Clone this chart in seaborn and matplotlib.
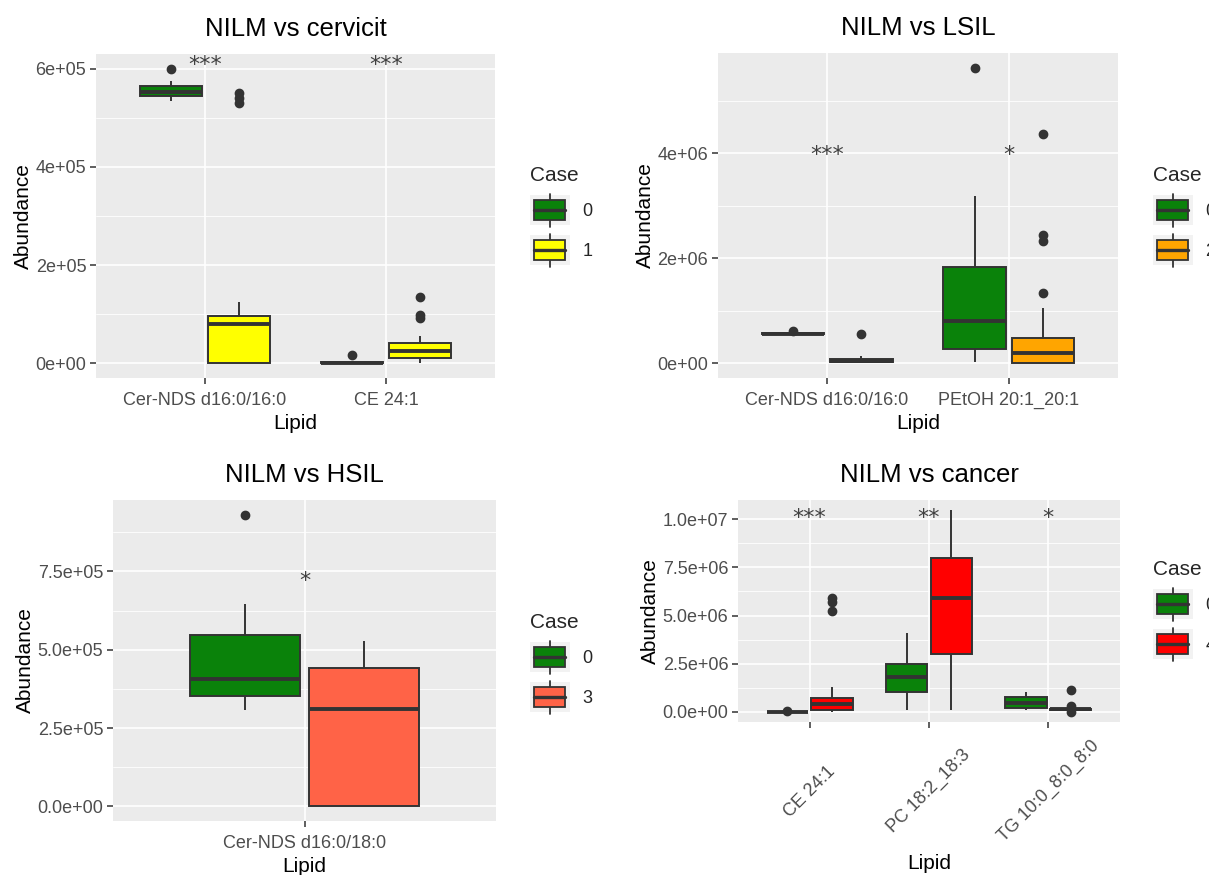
import numpy as np
import pandas as pd
import matplotlib
matplotlib.use("Agg")
import matplotlib.pyplot as plt
import seaborn as sns
from matplotlib.patches import Patch, Rectangle
from matplotlib.lines import Line2D
from matplotlib.legend_handler import HandlerBase

# ---------------- NILM vs cervicit ----------------
cerv_title = "NILM vs cervicit"
cerv_lipids = ["Cer-NDS d16:0/16:0", "CE 24:1"]
cerv_cases = ["0", "1"]
cerv_colors = ["#0A820A", "#FFFF00"]
cerv_cer_0 = [5.35e5, 5.40e5, 5.44e5, 5.48e5, 5.52e5, 5.58e5, 5.65e5, 5.76e5, 6.00e5]
cerv_cer_1 = [0, 0, 0, 0, 0, 2.0e4, 4.5e4, 6.5e4, 8.0e4, 8.5e4, 9.0e4, 9.3e4, 9.65e4,
              1.24e5, 5.31e5, 5.41e5, 5.51e5]
cerv_ce_0 = [0, 200, 500, 1000, 1500, 2000, 2500, 3500, 16000]
cerv_ce_1 = [0, 3e3, 6e3, 8e3, 1.0e4, 1.5e4, 2.0e4, 2.3e4, 2.6e4, 3.0e4, 3.5e4, 3.9e4,
             4.2e4, 5.5e4, 9.3e4, 9.9e4, 1.35e5]
cerv_yticks = [0, 2e5, 4e5, 6e5]
cerv_yticklabels = ["0e+00", "2e+05", "4e+05", "6e+05"]
cerv_signif = ["***", "***"]
cerv_signif_y = 6.2e5

# ---------------- NILM vs LSIL ----------------
lsil_title = "NILM vs LSIL"
lsil_lipids = ["Cer-NDS d16:0/16:0", "PEtOH 20:1_20:1"]
lsil_cases = ["0", "2"]
lsil_colors = ["#0A820A", "#FFA500"]
lsil_cer_0 = [5.45e5, 5.5e5, 5.5e5, 5.55e5, 5.6e5, 5.65e5, 5.7e5, 5.75e5, 6.1e5]
lsil_cer_2 = [0, 1e4, 2e4, 3.5e4, 5e4, 6.5e4, 8e4, 1.4e5, 5.5e5]
lsil_pet_0 = [2e4, 1.5e5, 2.8e5, 5.0e5, 8.1e5, 1.2e6, 1.83e6, 3.19e6, 5.63e6]
lsil_pet_2 = [0, 0, 0, 0, 0, 0, 4e4, 8e4, 1.2e5, 1.6e5, 2.0e5, 2.6e5, 3.2e5, 3.8e5, 4.4e5,
              4.9e5, 1.06e6, 1.34e6, 2.32e6, 2.45e6, 4.37e6]
lsil_yticks = [0, 2e6, 4e6]
lsil_yticklabels = ["0e+00", "2e+06", "4e+06"]
lsil_signif = ["***", "*"]
lsil_signif_y = 4.1e6

# ---------------- NILM vs HSIL ----------------
hsil_title = "NILM vs HSIL"
hsil_lipids = ["Cer-NDS d16:0/18:0"]
hsil_cases = ["0", "3"]
hsil_colors = ["#0A820A", "#FF6347"]
hsil_cer_0 = [3.07e5, 3.3e5, 3.53e5, 3.8e5, 4.07e5, 4.8e5, 5.48e5, 6.47e5, 9.31e5]
hsil_cer_3 = [0, 0, 0, 1.5e5, 3.11e5, 3.8e5, 4.42e5, 4.9e5, 5.27e5]
hsil_yticks = [0, 2.5e5, 5e5, 7.5e5]
hsil_yticklabels = ["0.0e+00", "2.5e+05", "5.0e+05", "7.5e+05"]
hsil_signif = ["*"]
hsil_signif_y = 7.4e5

# ---------------- NILM vs cancer ----------------
canc_title = "NILM vs cancer"
canc_lipids = ["CE 24:1", "PC 18:2_18:3", "TG 10:0_8:0_8:0"]
canc_cases = ["0", "4"]
canc_colors = ["#0A820A", "#FF0000"]
canc_ce_0 = [2e3, 6e3, 1e4, 1.2e4, 1.5e4, 1.8e4, 2e4, 3e4, 6e4]
canc_ce_4 = [0, 3e4, 6e4, 7.5e4, 9e4, 1.8e5, 2.6e5, 3.3e5, 4.0e5, 4.8e5, 5.5e5, 6.3e5,
             7.0e5, 1.27e6, 5.26e6, 5.7e6, 5.9e6]
canc_pc_0 = [9e4, 6e5, 1.04e6, 1.4e6, 1.79e6, 2.1e6, 2.47e6, 3.2e6, 4.11e6]
canc_pc_4 = [8e4, 1.5e6, 3.0e6, 4.5e6, 5.9e6, 7.0e6, 7.99e6, 9.2e6, 1.047e7]
canc_tg_0 = [1.0e5, 1.4e5, 1.8e5, 3.0e5, 4.4e5, 6.0e5, 7.5e5, 9.0e5, 1.04e6]
canc_tg_4 = [0, 6e4, 8e4, 9e4, 1.0e5, 1.1e5, 1.2e5, 1.25e5, 1.3e5, 1.4e5, 1.45e5, 1.5e5,
             1.6e5, 1.9e5, 2.2e5, 3.0e5, 1.13e6]
canc_yticks = [0, 2.5e6, 5e6, 7.5e6, 1e7]
canc_yticklabels = ["0.0e+00", "2.5e+06", "5.0e+06", "7.5e+06", "1.0e+07"]
canc_signif = ["***", "**", "*"]
canc_signif_y = 1.04e7

INK = "#333333"
TICK_TEXT = "#4D4D4D"

sns.set_theme(style="darkgrid", rc={
    "axes.facecolor": "#EBEBEB",
    "figure.facecolor": "white",
    "grid.color": "white",
    "axes.axisbelow": True,
})
plt.rcParams["font.family"] = ["Liberation Sans", "DejaVu Sans"]


class BoxKeyHandler(HandlerBase):
    """Legend key drawn as a small box-and-whisker glyph."""

    def create_artists(self, legend, orig_handle, xdescent, ydescent,
                       width, height, fontsize, trans):
        x0, y0 = -xdescent, -ydescent
        bg = Rectangle((x0, y0), width, height, facecolor="#F2F2F2",
                       edgecolor="none", transform=trans)
        bw, bh = width * 0.78, height * 0.66
        bx, by = x0 + (width - bw) / 2, y0 + (height - bh) / 2
        cx = x0 + width / 2
        lo = Line2D([cx, cx], [y0 - 1, by], color=INK, lw=1.3, transform=trans)
        hi = Line2D([cx, cx], [by + bh, y0 + height + 1], color=INK, lw=1.3,
                    transform=trans)
        box = Rectangle((bx, by), bw, bh, facecolor=orig_handle.get_facecolor(),
                        edgecolor=INK, lw=1.3, transform=trans)
        med = Line2D([bx, bx + bw], [y0 + height / 2] * 2, color=INK, lw=2.4,
                     transform=trans)
        return [bg, lo, hi, box, med]


def long_frame(lipids, cases, groups):
    rows = []
    for lipid, per_case in zip(lipids, groups):
        for case, values in zip(cases, per_case):
            for v in values:
                rows.append((lipid, case, v))
    return pd.DataFrame(rows, columns=["Lipid", "Case", "Abundance"])


def draw_panel(fig, rect, title, lipids, cases, colors, groups, yticks, yticklabels,
               signif, signif_y, legend_xy, rotate=False):
    ax = fig.add_axes(rect)
    df = long_frame(lipids, cases, groups)
    sns.boxplot(data=df, x="Lipid", y="Abundance", hue="Case", order=lipids,
                hue_order=cases, palette=dict(zip(cases, colors)), saturation=1,
                width=0.75, gap=0.08, linecolor=INK, linewidth=1.4, showcaps=False,
                fliersize=6,
                flierprops=dict(marker="o", markerfacecolor=INK, markeredgecolor=INK),
                medianprops=dict(linewidth=2.8, color=INK), legend=False, ax=ax)

    lo, hi = df["Abundance"].min(), df["Abundance"].max()
    span = hi - lo
    ax.set_ylim(lo - 0.05 * span, hi + 0.05 * span)
    ax.set_xlim(-0.6, len(lipids) - 0.4)

    ax.set_yticks(yticks)
    ax.set_yticklabels(yticklabels)
    step = yticks[1] - yticks[0]
    ax.set_yticks(np.arange(yticks[0] + step / 2, hi + 0.05 * span, step), minor=True)
    ax.set_xticks(range(len(lipids)))
    ax.set_xticklabels(lipids)

    ax.grid(True, which="major", axis="both", color="white", lw=1.2)
    ax.grid(True, which="minor", axis="y", color="white", lw=0.6)
    for s in ax.spines.values():
        s.set_visible(False)
    ax.tick_params(axis="both", which="major", bottom=True, left=True, length=4,
                   width=1.1, color=INK, labelsize=13, labelcolor=TICK_TEXT, pad=3)
    ax.tick_params(axis="both", which="minor", length=0)

    ax.set_title(title, fontsize=18.5, pad=13, color="black")
    ax.set_ylabel("Abundance", fontsize=15, labelpad=2, color="black")
    if rotate:
        plt.setp(ax.get_xticklabels(), rotation=45, ha="center", va="center",
                 rotation_mode="default")
        ax.tick_params(axis="x", pad=46)
        ax.set_xlabel("Lipid", fontsize=15, labelpad=6, color="black")
    else:
        ax.tick_params(axis="x", pad=6)
        ax.set_xlabel("Lipid", fontsize=15, labelpad=3.5, color="black")

    for i, s in enumerate(signif):
        ax.annotate(s, xy=(i, signif_y), xytext=(0, -9), textcoords="offset points",
                    ha="center", va="baseline", fontsize=16, color="#404040",
                    family="DejaVu Sans", annotation_clip=False)

    handles = [Patch(facecolor=c, edgecolor=INK) for c in colors]
    ax.legend(handles, cases, title="Case", loc="upper left",
              bbox_to_anchor=legend_xy, bbox_transform=fig.transFigure,
              frameon=False, fontsize=13, title_fontsize=15, handlelength=2.2,
              handleheight=2.2, labelspacing=0.55, handletextpad=0.7, borderpad=0,
              borderaxespad=0, alignment="left",
              handler_map={Patch: BoxKeyHandler()})
    return ax


W, H = 1209, 875
fig = plt.figure(figsize=(W / 100, H / 100), dpi=100)


def frac(left, top, right, bottom):
    return [left / W, 1 - bottom / H, (right - left) / W, (bottom - top) / H]


draw_panel(fig, frac(96, 54, 495, 378), cerv_title, cerv_lipids, cerv_cases, cerv_colors,
           [[cerv_cer_0, cerv_cer_1], [cerv_ce_0, cerv_ce_1]],
           cerv_yticks, cerv_yticklabels, cerv_signif, cerv_signif_y,
           (530 / W, 1 - 166 / H))

draw_panel(fig, frac(718, 53, 1118, 378), lsil_title, lsil_lipids, lsil_cases, lsil_colors,
           [[lsil_cer_0, lsil_cer_2], [lsil_pet_0, lsil_pet_2]],
           lsil_yticks, lsil_yticklabels, lsil_signif, lsil_signif_y,
           (1153 / W, 1 - 166 / H))

draw_panel(fig, frac(113, 500, 496, 821), hsil_title, hsil_lipids, hsil_cases, hsil_colors,
           [[hsil_cer_0, hsil_cer_3]],
           hsil_yticks, hsil_yticklabels, hsil_signif, hsil_signif_y,
           (530 / W, 1 - 613 / H))

draw_panel(fig, frac(738, 500, 1120, 722), canc_title, canc_lipids, canc_cases, canc_colors,
           [[canc_ce_0, canc_ce_4], [canc_pc_0, canc_pc_4], [canc_tg_0, canc_tg_4]],
           canc_yticks, canc_yticklabels, canc_signif, canc_signif_y,
           (1153 / W, 1 - 560 / H), rotate=True)

fig.savefig("out.png", dpi=100)
